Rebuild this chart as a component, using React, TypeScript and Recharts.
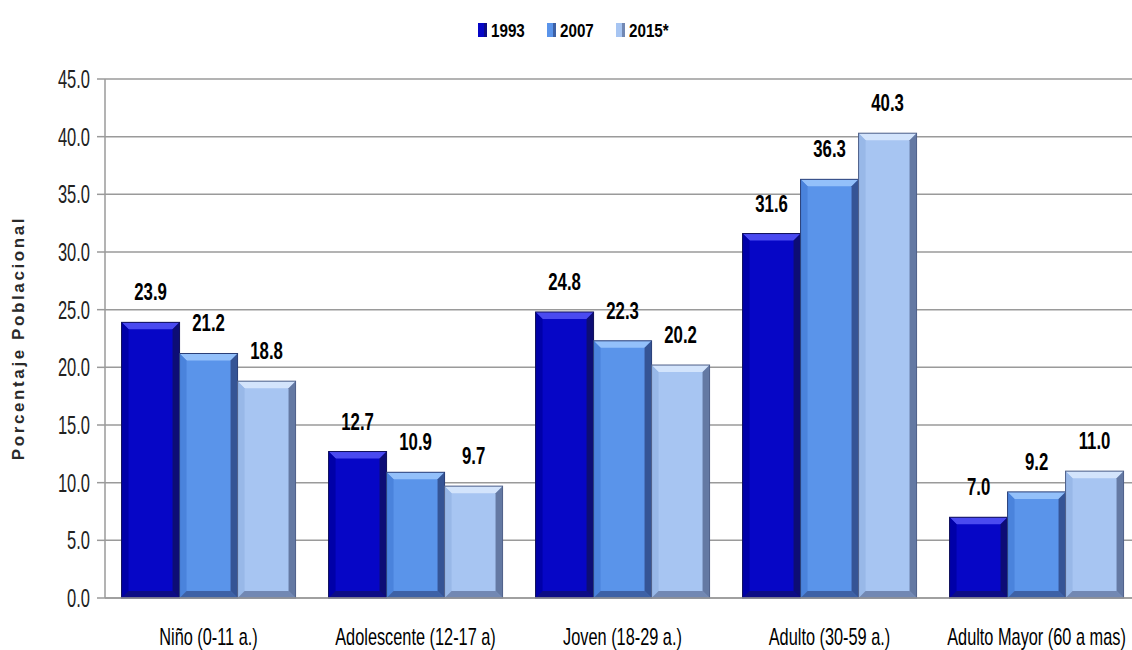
import React from 'react';
import { BarChart, Bar, XAxis, YAxis, CartesianGrid, Legend, LabelList } from 'recharts';

const categories = ['Niño (0-11 a.)', 'Adolescente (12-17 a)', 'Joven (18-29 a.)', 'Adulto (30-59 a.)', 'Adulto Mayor (60 a mas)'];
const values1993 = [23.9, 12.7, 24.8, 31.6, 7.0];
const values2007 = [21.2, 10.9, 22.3, 36.3, 9.2];
const values2015 = [18.8, 9.7, 20.2, 40.3, 11.0];
const seriesNames = ['1993', '2007', '2015*'];
const yTicks = [0, 5, 10, 15, 20, 25, 30, 35, 40, 45];

const data = categories.map((c, i) => ({
  name: c,
  s1993: values1993[i],
  s2007: values2007[i],
  s2015: values2015[i],
}));

const FONT = '"Liberation Sans", Arial, sans-serif';

const palettes = [
  { main: '#0606c6', top: '#4a4af0', side: '#0000a8', dark: '#10105a' },
  { main: '#5a94ea', top: '#93c0fa', side: '#4a83dc', dark: '#2a3f78' },
  { main: '#a7c5f2', top: '#d3e4fc', side: '#98b8e8', dark: '#4e5f88' },
];

const makeShape = (p: typeof palettes[0]) => (props: any) => {
  const { x, y, width, height } = props;
  if (!height || height <= 0) return null;
  const b = Math.min(7, height / 3);
  return (
    <g>
      <rect x={x} y={y} width={width} height={height} fill={p.main} />
      <polygon points={`${x},${y} ${x + width},${y} ${x + width - b},${y + b} ${x + b},${y + b}`} fill={p.top} />
      <polygon points={`${x},${y} ${x + b},${y + b} ${x + b},${y + height - b} ${x},${y + height}`} fill={p.side} />
      <polygon points={`${x + width},${y} ${x + width - b},${y + b} ${x + width - b},${y + height - b} ${x + width},${y + height}`} fill={p.dark} opacity={0.75} />
      <polygon points={`${x},${y + height} ${x + b},${y + height - b} ${x + width - b},${y + height - b} ${x + width},${y + height}`} fill={p.dark} opacity={0.6} />
      <rect x={x} y={y} width={width} height={height} fill="none" stroke={p.dark} strokeWidth={1} />
    </g>
  );
};

const SText = ({ x, y, sx, anchor, size, bold, fill, children }: any) => (
  <text
    transform={`translate(${x},${y}) scale(${sx},1)`}
    x={0}
    y={0}
    textAnchor={anchor}
    fontFamily={FONT}
    fontSize={size}
    fontWeight={bold ? 'bold' : 'normal'}
    fill={fill || '#000'}
  >
    {children}
  </text>
);

const XTick = (props: any) => {
  const { x, y, payload } = props;
  return (
    <SText x={x} y={y + 39} sx={0.68} anchor="middle" size={24} fill="#000">
      {payload.value}
    </SText>
  );
};

const YTick = (props: any) => {
  const { x, y, payload } = props;
  return (
    <SText x={x - 5} y={y + 9} sx={0.66} anchor="end" size={25} fill="#222">
      {Number(payload.value).toFixed(1)}
    </SText>
  );
};

const ValueLabel = (props: any) => {
  const { x, y, width, value } = props;
  return (
    <SText x={x + width / 2} y={y - 22} sx={0.7} anchor="middle" size={24} bold fill="#000">
      {Number(value).toFixed(1)}
    </SText>
  );
};

const LegendContent = () => (
  <svg width={1140} height={20} style={{ display: 'block' }}>
    {seriesNames.map((n, i) => {
      const x0 = [478, 547, 616][i];
      return (
        <g key={n}>
          <rect x={x0} y={3} width={9} height={14} fill={palettes[i].main} />
          <rect x={x0 + 6} y={3} width={3} height={14} fill={palettes[i].dark} opacity={0.6} />
          <SText x={x0 + 13} y={17} sx={0.8} anchor="start" size={19} bold fill="#000">
            {n}
          </SText>
        </g>
      );
    })}
  </svg>
);

export default function App() {
  return (
    <div style={{ position: 'absolute', left: 0, top: 0, width: 1132, height: 650, overflow: 'hidden', background: '#fff' }}>
      <BarChart
        width={1140}
        height={650}
        data={data}
        margin={{ top: 59, right: 0, left: 40, bottom: 22 }}
        barCategoryGap="8%"
        barGap={0}
      >
        <CartesianGrid vertical={false} stroke="#9a9a9a" strokeWidth={1.5} />
        <XAxis dataKey="name" height={30} tick={<XTick />} tickLine={false} axisLine={{ stroke: '#9a9a9a', strokeWidth: 1.5 }} interval={0} />
        <YAxis
          width={65}
          domain={[0, 45]}
          ticks={yTicks}
          interval={0}
          tick={<YTick />}
          tickSize={8}
          tickLine={{ stroke: '#9a9a9a', strokeWidth: 1.5 }}
          axisLine={{ stroke: '#9a9a9a', strokeWidth: 1.5 }}
          label={{
            value: 'Porcentaje Poblacional',
            content: () => (
              <text x={18} y={338} transform="rotate(-90 18 338)" textAnchor="middle" dominantBaseline="central" fontFamily={FONT} fontWeight="bold" fontSize={17} letterSpacing={2.6} fill="#2a2a2a">
                Porcentaje Poblacional
              </text>
            ),
          }}
        />
        <Legend verticalAlign="top" content={<LegendContent />} wrapperStyle={{ top: 20, left: 0, width: 1140, height: 20 }} />
        <Bar dataKey="s1993" name="1993" fill={palettes[0].main} shape={makeShape(palettes[0])} isAnimationActive={false}>
          <LabelList dataKey="s1993" content={<ValueLabel />} />
        </Bar>
        <Bar dataKey="s2007" name="2007" fill={palettes[1].main} shape={makeShape(palettes[1])} isAnimationActive={false}>
          <LabelList dataKey="s2007" content={<ValueLabel />} />
        </Bar>
        <Bar dataKey="s2015" name="2015*" fill={palettes[2].main} shape={makeShape(palettes[2])} isAnimationActive={false}>
          <LabelList dataKey="s2015" content={<ValueLabel />} />
        </Bar>
      </BarChart>
    </div>
  );
}
